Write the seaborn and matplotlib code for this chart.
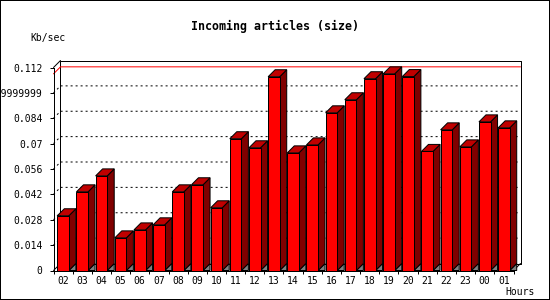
import matplotlib
matplotlib.use("Agg")
import numpy as np
import pandas as pd
import matplotlib.pyplot as plt
import seaborn as sns
from matplotlib.patches import Polygon, Rectangle

# data (Kb/sec per hour)
hours = ["02", "03", "04", "05", "06", "07", "08", "09", "10", "11", "12", "13",
         "14", "15", "16", "17", "18", "19", "20", "21", "22", "23", "00", "01"]
kbsec = [0.0302, 0.0434, 0.0522, 0.0180, 0.0224, 0.0252, 0.0434, 0.0473,
         0.0346, 0.0727, 0.0677, 0.1069, 0.0649, 0.0693, 0.0870, 0.0942,
         0.1058, 0.1085, 0.1070, 0.0657, 0.0776, 0.0682, 0.0820, 0.0787]
yticks = [0, 0.014, 0.028, 0.042, 0.056, 0.07, 0.084, 0.098, 0.112]
ytick_labels = ["0", "0.014", "0.028", "0.042", "0.056", "0.07", "0.084",
                "0.09999999", "0.112"]

df = pd.DataFrame({"hour": hours, "kb": kbsec})

sns.set_theme(style="white")
plt.rcParams["font.family"] = ["DejaVu Sans Mono", "DejaVu Sans"]

W, H = 550, 300
fig = plt.figure(figsize=(5.5, 3.0), dpi=100)
ax_l, ax_r, ax_b, ax_t = 53.5, 513.5, 270.5, 67.5
ax = fig.add_axes([ax_l / W, 1 - ax_b / H, (ax_r - ax_l) / W, (ax_b - ax_t) / H])

ymax = 0.112
xl, xr = -0.5, len(hours) - 0.5
# depth of the fake 3d in pixels -> data units
depth = 7
dx = depth * (xr - xl) / (ax_r - ax_l)
dy = depth * ymax / (ax_b - ax_t)

sns.barplot(data=df, x="hour", y="kb", order=hours, color="#ff0000",
            saturation=1, width=0.605, edgecolor="black", linewidth=0.72,
            ax=ax, zorder=5)

ax.set_xlim(xl, xr)
ax.set_ylim(0, ymax)

# back wall, grid and side wall lines
line_kw = dict(color="black", lw=0.72, clip_on=False, zorder=1)
ax.plot([xl + dx, xr + dx, xr + dx, xl + dx, xl + dx],
        [dy, dy, ymax + dy, ymax + dy, dy], **line_kw)
ax.plot([xl, xl + dx], [ymax, ymax + dy], **line_kw)
ax.plot([xr, xr + dx], [0, dy], **line_kw)
ax.plot([xl, xl + dx], [0, dy], **line_kw)
for t in yticks[1:-1]:
    ax.plot([xl, xl + dx, xr + dx], [t, t + dy, t + dy], color="black",
            lw=0.72, dashes=(2, 3), clip_on=False, zorder=1)

# max line in red
vmax = max(kbsec)
ax.plot([xl, xl + dx, xr + dx], [vmax, vmax + dy, vmax + dy], color="#ff0000",
        lw=0.72, clip_on=False, zorder=2)

# side, top and floor shadow of each bar
for p in list(ax.patches):
    x0 = p.get_x()
    x1 = x0 + p.get_width()
    h = p.get_height()
    side = Polygon([(x1, 0), (x1 + dx, dy), (x1 + dx, h + dy), (x1, h)],
                   closed=True, fc="#800000", ec="black", lw=0.72, zorder=4,
                   clip_on=False)
    top = Polygon([(x0, h), (x0 + dx, h + dy), (x1 + dx, h + dy), (x1, h)],
                  closed=True, fc="#c00000", ec="black", lw=0.72, zorder=4,
                  clip_on=False)
    shadow = Polygon([(x1, 0), (x1 + dx, dy), (x1 + dx, 0)], closed=True,
                     fc="#808080", ec="black", lw=0.72, zorder=3, clip_on=False)
    ax.add_patch(shadow)
    ax.add_patch(side)
    ax.add_patch(top)

# axes
for s in ["top", "right"]:
    ax.spines[s].set_visible(False)
for s in ["left", "bottom"]:
    ax.spines[s].set_color("black")
    ax.spines[s].set_linewidth(0.72)
    ax.spines[s].set_zorder(6)

ax.set_yticks(yticks, ytick_labels)
ax.set_xticks(range(len(hours)), hours)
ax.set_xticks(np.arange(xl, xr + 0.5, 1.0), minor=True)
ax.tick_params(axis="y", which="major", left=True, length=3, width=0.72,
               color="black", pad=5, labelsize=7, labelcolor="black")
ax.tick_params(axis="x", which="major", bottom=True, length=0, pad=4,
               labelsize=7, labelcolor="black")
ax.tick_params(axis="x", which="minor", bottom=True, length=2.5, width=0.72,
               color="black")
ax.set_xlabel("")
ax.set_ylabel("")

fig.text(275 / W, 1 - 26 / H, "Incoming articles (size)", ha="center",
         va="center", fontsize=8.4, fontweight="bold", color="black")
fig.text(30 / W, 1 - 38.5 / H, "Kb/sec", ha="left", va="center", fontsize=7,
         color="black")
fig.text(505 / W, 1 - 292 / H, "Hours", ha="left", va="center", fontsize=7,
         color="black")

fig.patches.append(Rectangle((0, 0), 1, 1, transform=fig.transFigure,
                             fill=False, ec="black", lw=1.44))

fig.savefig("out.png", dpi=100, facecolor="white")
